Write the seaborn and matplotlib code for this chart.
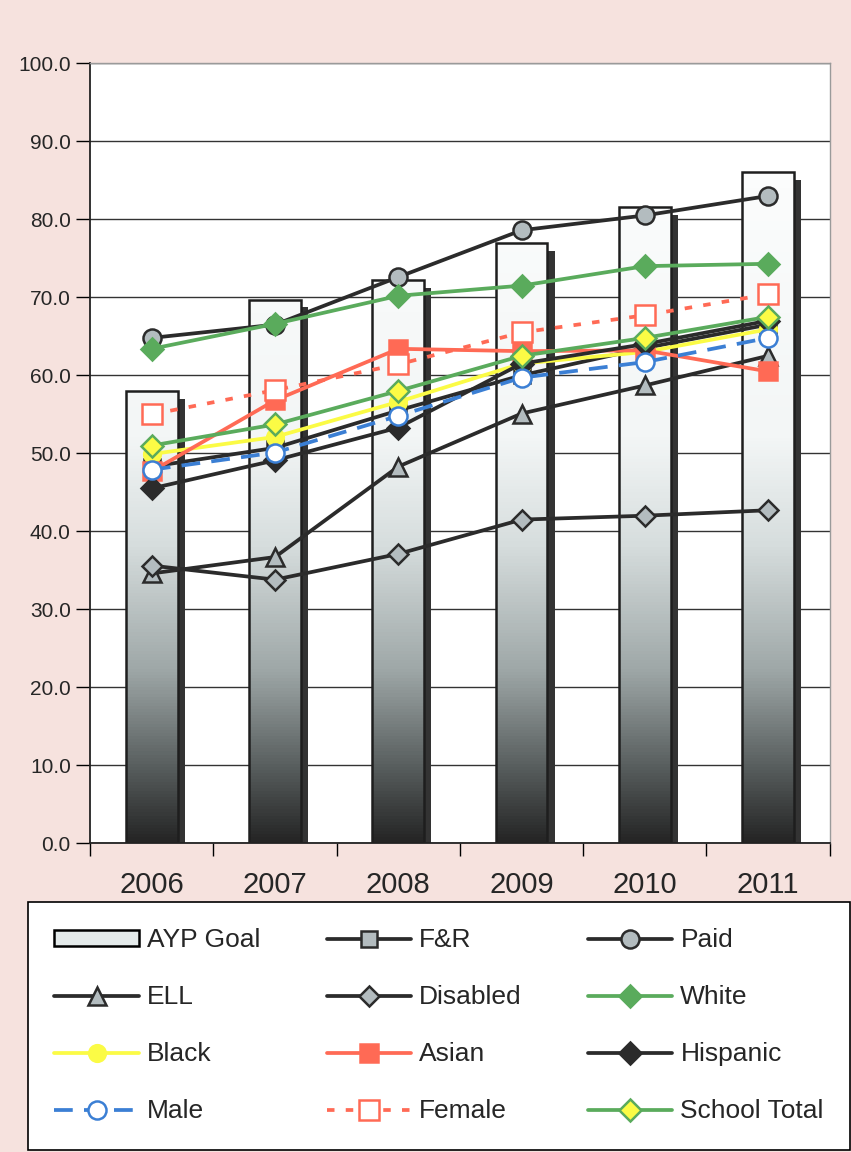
import numpy as np
import seaborn as sns
from matplotlib import pyplot as plt
from matplotlib.colors import LinearSegmentedColormap
from matplotlib.patches import Rectangle, Patch
from matplotlib.ticker import FixedLocator

years = ["2006", "2007", "2008", "2009", "2010", "2011"]
ayp_goal = [58.0, 69.7, 72.2, 77.0, 81.6, 86.1]
fr = [48.3, 50.7, 55.5, 60.0, 63.5, 66.5]
paid = [64.8, 66.5, 72.6, 78.6, 80.5, 83.0]
ell = [34.6, 36.7, 48.3, 55.1, 58.7, 62.5]
disabled = [35.6, 33.8, 37.1, 41.5, 42.0, 42.7]
white = [63.4, 66.6, 70.2, 71.5, 74.0, 74.3]
black = [49.9, 52.1, 56.6, 61.5, 63.0, 65.9]
asian = [47.7, 56.8, 63.4, 63.1, 63.2, 60.5]
hispanic = [45.5, 49.1, 53.3, 61.5, 64.0, 67.0]
male = [47.9, 50.1, 54.8, 59.7, 61.7, 64.8]
female = [55.0, 58.1, 61.4, 65.5, 67.7, 70.4]
school_total = [51.0, 53.7, 58.0, 62.5, 64.8, 67.5]

DARK = "#2b2b2b"
GREY_FILL = "#b3bcbf"
GREEN = "#5aab5c"
YELLOW = "#fbfb45"
RED = "#ff6a55"
BLUE = "#3b7fd4"
PAPER = "#f6e2de"

# (name, values, line color, linestyle, marker, face, edge, size)
series = [
    ("F&R", fr, DARK, "-", "s", GREY_FILL, DARK, 12),
    ("Paid", paid, DARK, "-", "o", GREY_FILL, DARK, 13),
    ("ELL", ell, DARK, "-", "^", GREY_FILL, DARK, 13),
    ("Disabled", disabled, DARK, "-", "D", GREY_FILL, DARK, 10),
    ("White", white, GREEN, "-", "D", GREEN, GREEN, 11),
    ("Black", black, YELLOW, "-", "o", YELLOW, YELLOW, 12),
    ("Asian", asian, RED, "-", "s", RED, RED, 13),
    ("Hispanic", hispanic, DARK, "-", "D", DARK, DARK, 11),
    ("Male", male, BLUE, (0, (5, 3)), "o", "white", BLUE, 13),
    ("Female", female, RED, (0, (2, 3)), "s", "white", RED, 14),
    ("School Total", school_total, GREEN, "-", "D", YELLOW, GREEN, 11),
]

sns.set_style("white")
plt.rcParams["font.family"] = ["Liberation Sans", "DejaVu Sans"]

fig = plt.figure(figsize=(8.51, 11.52), dpi=100, facecolor=PAPER)
ax = fig.add_axes([0.106, 0.268, 0.869, 0.677])
ax.set_facecolor("white")

sns.barplot(x=years, y=ayp_goal, ax=ax, color="white", edgecolor="#1e1e1e",
            linewidth=1.8, width=0.42, zorder=2)
bars = list(ax.patches)

grad_cmap = LinearSegmentedColormap.from_list(
    "ayp", [(0.0, "#242424"), (0.1, "#5a6060"), (0.22, "#9ea7a7"),
            (0.38, "#d6dddd"), (0.52, "#f3f6f6"), (1.0, "#ffffff")])
grad = np.linspace(0, 1, 256).reshape(-1, 1)
for p in bars:
    x0, w, h = p.get_x(), p.get_width(), p.get_height()
    p.set_facecolor("none")
    img = ax.imshow(grad, cmap=grad_cmap, origin="lower", aspect="auto",
                    extent=(x0, x0 + w, 0, 100), zorder=1.8)
    img.set_clip_path(p)
    ax.add_patch(Rectangle((x0 + w, 0), w * 0.14, h - 1.0,
                           facecolor="#333333", edgecolor="none", zorder=1.7))

xpos = np.arange(len(years))
for name, vals, col, ls, mk, fc, ec, ms in series:
    sns.lineplot(x=xpos, y=vals, ax=ax, label=name, color=col, linestyle=ls,
                 linewidth=2.7, marker=mk, markersize=ms, markerfacecolor=fc,
                 markeredgecolor=ec, markeredgewidth=1.8, zorder=3)

ax.set_xlim(-0.5, len(years) - 0.5)
ax.set_ylim(0, 100)
ax.set_yticks(np.arange(0, 101, 10))
ax.set_yticklabels([f"{v:.1f}" for v in np.arange(0, 101, 10)], fontsize=15)
ax.set_xticks(xpos)
ax.set_xticklabels(years, fontsize=21)
ax.xaxis.set_minor_locator(FixedLocator(np.arange(len(years) + 1) - 0.5))
ax.tick_params(axis="x", which="major", length=0, pad=20)
ax.tick_params(axis="x", which="minor", length=9, width=1, color="black",
               direction="out", bottom=True)
ax.tick_params(axis="y", length=10, width=1, color="black", direction="out",
               left=True, pad=4)
ax.yaxis.grid(True, color="#333333", linewidth=1)
ax.set_axisbelow(True)
ax.set_xlabel("")
ax.set_ylabel("")
for side in ["left", "bottom"]:
    ax.spines[side].set_color("#222222")
    ax.spines[side].set_linewidth(1.3)
for side in ["top", "right"]:
    ax.spines[side].set_color("#9a9a9a")
    ax.spines[side].set_linewidth(1.0)

handles, labels = ax.get_legend_handles_labels()
if ax.get_legend() is not None:
    ax.get_legend().remove()
lookup = dict(zip(labels, handles))
lookup["AYP Goal"] = Patch(facecolor="#e4eaea", edgecolor="black", linewidth=1.8)

order = ["AYP Goal", "ELL", "Black", "Male",
         "F&R", "Disabled", "Asian", "Female",
         "Paid", "White", "Hispanic", "School Total"]
leg = fig.legend([lookup[k] for k in order], order, ncol=3, loc="lower left",
                 bbox_to_anchor=(0.033, 0.002, 0.966, 0.212), mode="expand",
                 fontsize=19, frameon=True, fancybox=False, edgecolor="black",
                 framealpha=1, handlelength=3.2, handleheight=0.55,
                 handletextpad=0.3, labelspacing=1.25, borderaxespad=0,
                 borderpad=1.0)
leg.get_frame().set_linewidth(1.2)

fig.savefig("out.png", dpi=100, facecolor=PAPER)
